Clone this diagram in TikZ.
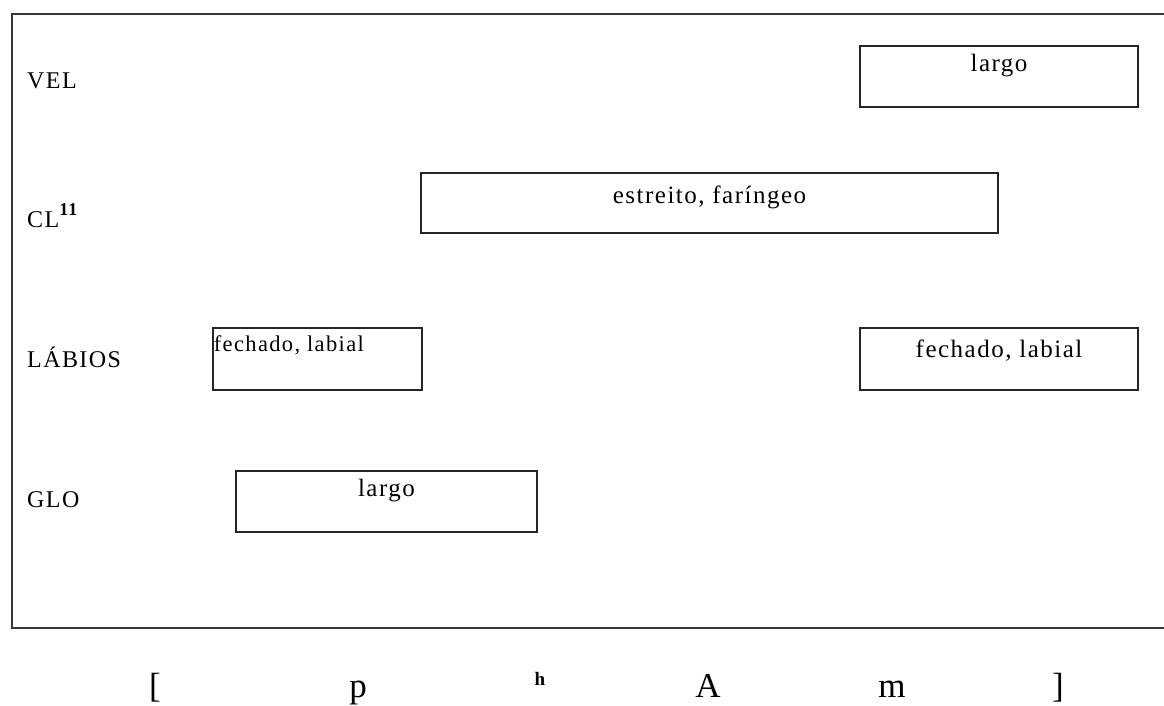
\documentclass[tikz,border=0pt]{standalone}
\usepackage{fontspec}
\setmainfont{Liberation Serif}
\newfontfamily\spaced[LetterSpace=6]{Liberation Serif}
\definecolor{frame}{gray}{0.22}
\definecolor{boxline}{gray}{0.15}
\tikzset{
  framel/.style={draw=frame, line width=2pt},
  box/.style={draw=boxline, line width=1.6pt, inner sep=0pt, rectangle},
  rowlabel/.style={anchor=base west, inner sep=0pt, font=\spaced\fontsize{24}{28}\selectfont},
  boxtext/.style={anchor=base, inner sep=0pt, font=\spaced\fontsize{25}{29}\selectfont},
  phone/.style={anchor=base, inner sep=0pt, font=\fontsize{35}{40}\selectfont}
}
\begin{document}
\begin{tikzpicture}[x=1pt, y=-1pt]
\useasboundingbox (0,0) rectangle (1164,705);
% frame
\coordinate (tl) at (12,14);
\coordinate (tr) at (1164,14);
\coordinate (bl) at (12,628);
\coordinate (br) at (1164,628);
\draw[framel] (tr) -- (tl) -- (bl) -- (br);
% row labels
\node[rowlabel] (lvel) at (27,88) {VEL};
\node[rowlabel] (lcl) at (27,227) {CL\raisebox{0.5em}{\fontsize{18}{20}\selectfont\bfseries 11}};
\node[rowlabel] (llab) at (27,367) {LÁBIOS};
\node[rowlabel] (lglo) at (27,507) {GLO};
% boxes
\node[box, minimum width=278pt, minimum height=61pt] (bvel) at (999,76.5) {};
\node[box, minimum width=577pt, minimum height=60pt] (bcl) at (709.5,203) {};
\node[box, minimum width=209pt, minimum height=62pt] (blabl) at (317.5,359) {};
\node[box, minimum width=278pt, minimum height=62pt] (blabr) at (999,359) {};
\node[box, minimum width=301pt, minimum height=61pt] (bglo) at (386.5,501.5) {};
% box texts
\node[boxtext] (tvel) at ([yshift=-26pt]bvel.north) {largo};
\node[boxtext] (tcl) at ([yshift=-31pt]bcl.north) {estreito, faríngeo};
\node[boxtext, anchor=base west, font=\spaced\fontsize{22.5}{26}\selectfont] (tlabl) at ([xshift=1.5pt,yshift=-24pt]blabl.north west) {fechado, labial};
\node[boxtext] (tlabr) at ([yshift=-30pt]blabr.north) {fechado, labial};
\node[boxtext] (tglo) at ([yshift=-26pt]bglo.north) {largo};
% bottom transcription
\node[phone] (ob) at (155,697) {[};
\node[phone] (pp) at (358,697) {p};
\node[anchor=base, inner sep=0pt, font=\fontsize{19}{22}\selectfont\bfseries] (ph) at (540,685) {h};
\node[phone] (pa) at (708,697) {A};
\node[phone] (pm) at (892,697) {m};
\node[phone] (cb) at (1058,697) {]};
\end{tikzpicture}
\end{document}
